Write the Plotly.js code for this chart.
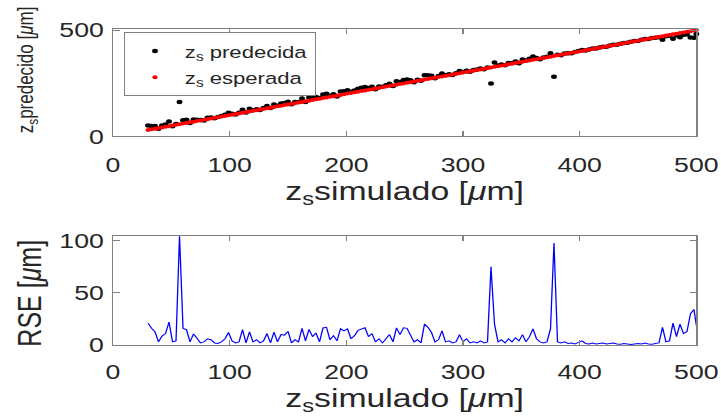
<!DOCTYPE html>
<html>
<head>
<meta charset="utf-8">
<script src="https://cdn.plot.ly/plotly-3.0.1.min.js"></script>
<style>
html,body{margin:0;padding:0;background:#fff;overflow:hidden;width:721px;height:419px;}
#plot{width:555px;height:419px;transform:scaleX(1.2991);transform-origin:0 0;}
</style>
</head>
<body>
<div id="plot"></div>
<script>
// simulated z_s [um]
const zsSimulado = [
30,33,36,39,42,45,48,51,54,57,
60,63,66,69,72,75,78,81,84,87,
90,93,96,99,102,105,108,111,114,117,
120,123,126,129,132,135,138,141,144,147,
150,153,156,159,162,165,168,171,174,177,
180,183,186,189,192,195,198,201,204,207,
210,213,216,219,222,225,228,231,234,237,
240,243,246,249,252,255,258,261,264,267,
270,273,276,279,282,285,288,291,294,297,
300,303,306,309,312,315,318,321,324,327,
330,333,336,339,342,345,348,351,354,357,
360,363,366,369,372,375,378,381,384,387,
390,393,396,399,402,405,408,411,414,417,
420,423,426,429,432,435,438,441,444,447,
450,453,456,459,462,465,468,471,474,477,
480,483,486,489,492,495,498,500];

// predicted z_s [um]
const zsPredecida = [
51,49,48.7,36,50.6,56,70,48,58,162,
76,77.7,63,79.6,78.5,77,75,87,89,85,
91.5,96,102,111,106,103,111,125.7,112,129.6,
123,128,124,133,143,133,150.4,144,154,156.5,
163,151,161,162,178,161,183,179,185.5,180,
196.4,200,191,198,188,210.6,211.6,216.6,210,216,
224,228.6,232.5,227,233,222,234,233,240.5,247,
237,259.5,256,265.5,268,264,255,266,262,287,
287,285,273,284,295.6,288,292,289,297,307,
303,309,304,312,314,319,316,324,249,347,
333,338,334,345,345,352,344,361,357,365,
375.5,369,363,371,375,390.5,280,384,382,390,
391.5,391,397,401.5,406,403.5,409,413,413,418.5,
422,422,427.5,431,431,435.8,439.5,440,444.5,448,
448.5,454,458,458,462.8,463.5,466,454,471,473,
459,475,466,478,479,465,464,481];

// expected z_s equals the simulated value
const zsEsperada = zsSimulado;

// RSE [um]
const rse = [
21,16,12.7,3,8.6,11,22,3,4,105,
16,14.7,3,10.6,6.5,2,3,6,5,2,
1.5,3,6,12,4,2,3,14.7,2,12.6,
3,5,2,4,11,2,12.4,3,10,9.5,
13,2,5,3,16,4,15,8,11.5,3,
16.4,17,5,9,4,15.6,13.6,15.6,6,9,
14,15.6,16.5,8,11,3,6,2,6.5,10,
3,16.5,10,16.5,16,9,3,5,2,20,
17,12,3,5,13.6,3,4,2,3,10,
3,6,2,3,2,4,2,3,75,20,
3,5,2,6,3,7,4,10,3,8,
15.5,6,3,2,3,15.5,98,3,2,3,
1.5,2,1,2.5,4,1.5,1,2,1,1.5,
2,1,1.5,2,1,0.8,1.5,1,0.5,1,
1.5,1,2,1,0.8,1.5,2,17,3,4,
21,8,20,11,13,30,34,19];

const xTicks = [0,100,200,300,400,500];
const yTopTicks = [0,500];
const yBotTicks = [0,50,100];

const FONT = 'Liberation Sans, Arial, Helvetica, sans-serif';
const TXT = '#262626';
const LINE = '#808080';

const traces = [
  {x: zsSimulado, y: zsPredecida, type:'scatter', mode:'markers',
   name:'z<sub>s</sub> predecida', legendgroup:'a',
   marker:{color:'#000000', size:4.5}, xaxis:'x', yaxis:'y', cliponaxis:false},
  {x: zsSimulado, y: zsEsperada, type:'scatter', mode:'markers',
   name:'z<sub>s</sub> esperada', legendgroup:'b',
   marker:{color:'#ff0000', size:4}, xaxis:'x', yaxis:'y', cliponaxis:false},
  {x: zsSimulado, y: rse, type:'scatter', mode:'lines', showlegend:false,
   line:{color:'#0000ff', width:1}, xaxis:'x2', yaxis:'y2'}
];

const axBase = {
  showline:true, linecolor:LINE, linewidth:1, mirror:'ticks',
  ticks:'inside', ticklen:5, tickcolor:LINE, tickwidth:1,
  showgrid:false, zeroline:false,
  tickfont:{family:FONT, size:20.5, color:TXT}
};

const xTitle = {text:'z<sub>s</sub>simulado [<i>μ</i>m]', font:{family:FONT, size:26, color:TXT}, standoff:0};

const layout = {
  width:555, height:419,
  margin:{l:87.2, r:19.2, t:28.5, b:74},
  paper_bgcolor:'#ffffff', plot_bgcolor:'#ffffff',
  showlegend:true,
  legend:{x:0.0185, y:0.989, xanchor:'left', yanchor:'top',
    bgcolor:'#ffffff', bordercolor:'#808080', borderwidth:1,
    font:{family:FONT, size:17, color:TXT}, traceorder:'grouped',
    tracegroupgap:1, itemwidth:36},
  xaxis: Object.assign({}, axBase, {domain:[0,1], range:[0,500], tickvals:xTicks, anchor:'y',
    ticklabelstandoff:10, title:xTitle, automargin:false}),
  yaxis: Object.assign({}, axBase, {domain:[0.6603,1], range:[0,505], tickvals:yTopTicks, anchor:'x',
    ticklabelstandoff:2, automargin:false}),
  xaxis2: Object.assign({}, axBase, {domain:[0,1], range:[0,500], tickvals:xTicks, anchor:'y2',
    ticklabelstandoff:8, title:xTitle, automargin:false}),
  yaxis2: Object.assign({}, axBase, {domain:[0,0.3444], range:[0,104.5], tickvals:yBotTicks, anchor:'x2',
    ticklabelstandoff:2, automargin:false}),
  annotations:[
    {text:'z<sub>s</sub>predecido [<i>μ</i>m]', textangle:-90, xref:'paper', yref:'paper',
     x:-0.145, y:0.872, xanchor:'center', yanchor:'middle', showarrow:false,
     font:{family:FONT, size:17, color:TXT}},
    {text:'RSE [<i>μ</i>m]', textangle:-90, xref:'paper', yref:'paper',
     x:-0.143, y:0.165, xanchor:'center', yanchor:'middle', showarrow:false,
     font:{family:FONT, size:25, color:TXT}}
  ]
};

Plotly.newPlot('plot', traces, layout, {displayModeBar:false, staticPlot:true});
</script>
</body>
</html>
